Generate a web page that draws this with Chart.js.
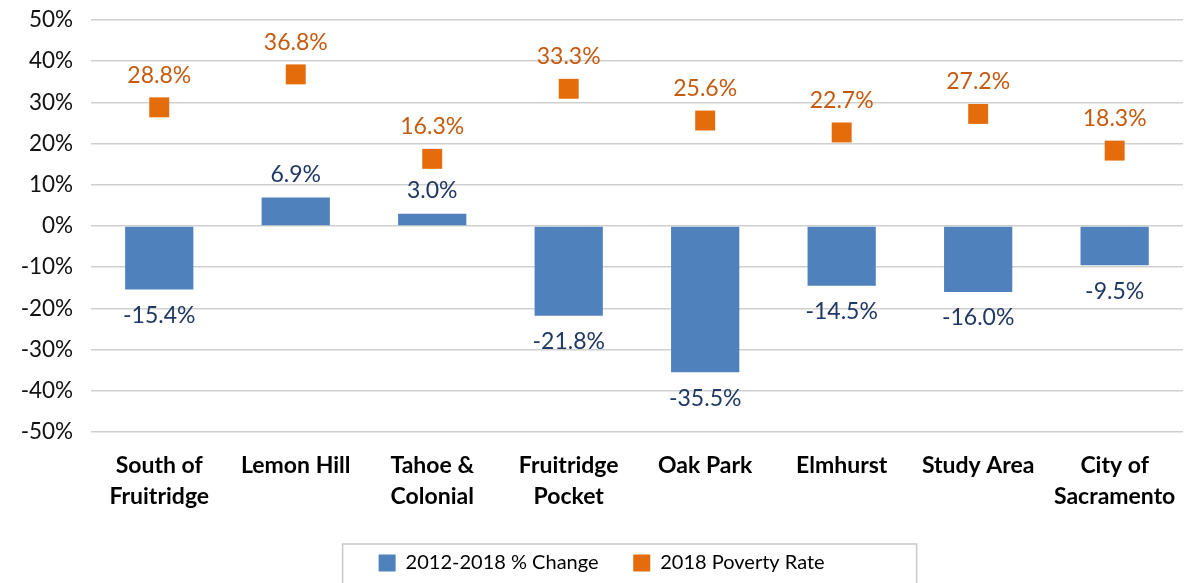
<!DOCTYPE html>
<html>
<head>
<meta charset="utf-8">
<script src="https://cdn.jsdelivr.net/npm/chart.js@4"></script>
<style>
  html, body { margin: 0; padding: 0; background: #fff; }
  #wrap { width: 1197px; height: 583px; }
</style>
</head>
<body>
<div id="wrap"><canvas id="povertyChart"></canvas></div>
<script>
const areas = [
    ['South of', 'Fruitridge'],
    'Lemon Hill',
    ['Tahoe &', 'Colonial'],
    ['Fruitridge', 'Pocket'],
    'Oak Park',
    'Elmhurst',
    'Study Area',
    ['City of', 'Sacramento']
];
const pctChange = [-15.4, 6.9, 3.0, -21.8, -35.5, -14.5, -16.0, -9.5];
const povertyRate = [28.8, 36.8, 16.3, 33.3, 25.6, 22.7, 27.2, 18.3];

const blue = '#4f81bd';
const orange = '#e46c0a';
const fontFamily = 'Lato, "Open Sans", sans-serif';

// draws the value labels next to the bars and markers
const valueLabels = {
    id: 'valueLabels',
    afterDatasetsDraw: function(chart) {
        const ctx = chart.ctx;
        ctx.save();
        ctx.font = '23px ' + fontFamily;
        ctx.textAlign = 'center';
        ctx.textBaseline = 'middle';

        chart.getDatasetMeta(0).data.forEach(function(bar, i) {
            const v = pctChange[i];
            ctx.fillStyle = '#1f3864';
            const y = v >= 0 ? bar.y - 23 : bar.y + 26;
            ctx.fillText(v.toFixed(1) + '%', bar.x, y);
        });

        chart.getDatasetMeta(1).data.forEach(function(pt, i) {
            ctx.fillStyle = '#c55a11';
            ctx.fillText(povertyRate[i].toFixed(1) + '%', pt.x, pt.y - 32);
        });
        ctx.restore();
    }
};

// nudge the legend right and put a border round it, like the Excel original
const legendBox = {
    id: 'legendBox',
    afterUpdate: function(chart) {
        const legend = chart.legend;
        legend.left += 22;
        legend.right += 22;
        legend.adjustHitBoxes();
    },
    afterDraw: function(chart) {
        const boxes = chart.legend.legendHitBoxes;
        if (!boxes || !boxes.length) return;
        const ctx = chart.ctx;
        ctx.save();
        ctx.strokeStyle = '#c8c8c8';
        ctx.lineWidth = 1.5;
        ctx.strokeRect(boxes[0].left - 36, 544, 574, 60);
        ctx.restore();
    }
};

new Chart(document.getElementById('povertyChart'), {
    data: {
        labels: areas,
        datasets: [
            {
                type: 'bar',
                label: '2012-2018 % Change',
                data: pctChange,
                backgroundColor: blue,
                borderWidth: 0,
                categoryPercentage: 1.0,
                barPercentage: 0.5,
                order: 2
            },
            {
                type: 'line',
                label: '2018 Poverty Rate',
                data: povertyRate,
                showLine: false,
                pointStyle: 'rect',
                pointRadius: 14.1,
                pointHoverRadius: 14.1,
                backgroundColor: orange,
                borderColor: orange,
                pointBorderWidth: 0,
                order: 1
            }
        ]
    },
    options: {
        responsive: true,
        maintainAspectRatio: false,
        animation: false,
        events: [],
        layout: { padding: { top: 20, right: 7, bottom: 0, left: 0 } },
        scales: {
            x: {
                offset: true,
                grid: { display: false, drawTicks: false },
                border: { display: false },
                ticks: {
                    color: '#000',
                    padding: 18.5,
                    maxRotation: 0,
                    autoSkip: false,
                    font: { family: fontFamily, size: 23, weight: 'bold', lineHeight: 1.35 }
                },
                afterFit: function(scale) { scale.height = 117; }
            },
            y: {
                min: -50,
                max: 50,
                grid: { color: '#d0d0d0', lineWidth: 1.5, drawTicks: false },
                border: { display: false },
                ticks: {
                    stepSize: 10,
                    color: '#111',
                    padding: 1,
                    font: { family: fontFamily, size: 22.5 },
                    // em space keeps the labels clear of the plot without tick padding
                    callback: function(v) { return v + '%\u2003'; }
                },
                afterFit: function(scale) { scale.width = 91; }
            }
        },
        plugins: {
            legend: {
                position: 'bottom',
                labels: {
                    boxWidth: 17,
                    boxHeight: 17,
                    padding: 4,
                    color: '#111',
                    font: { family: fontFamily, size: 20 },
                    generateLabels: function(chart) {
                        return chart.data.datasets.map(function(ds, i) {
                            return {
                                text: ds.label + '      ',
                                fillStyle: i === 0 ? blue : orange,
                                strokeStyle: i === 0 ? blue : orange,
                                lineWidth: 0,
                                pointStyle: 'rect',
                                datasetIndex: i
                            };
                        });
                    }
                }
            },
            tooltip: { enabled: false }
        }
    },
    plugins: [valueLabels, legendBox]
});
</script>
</body>
</html>
